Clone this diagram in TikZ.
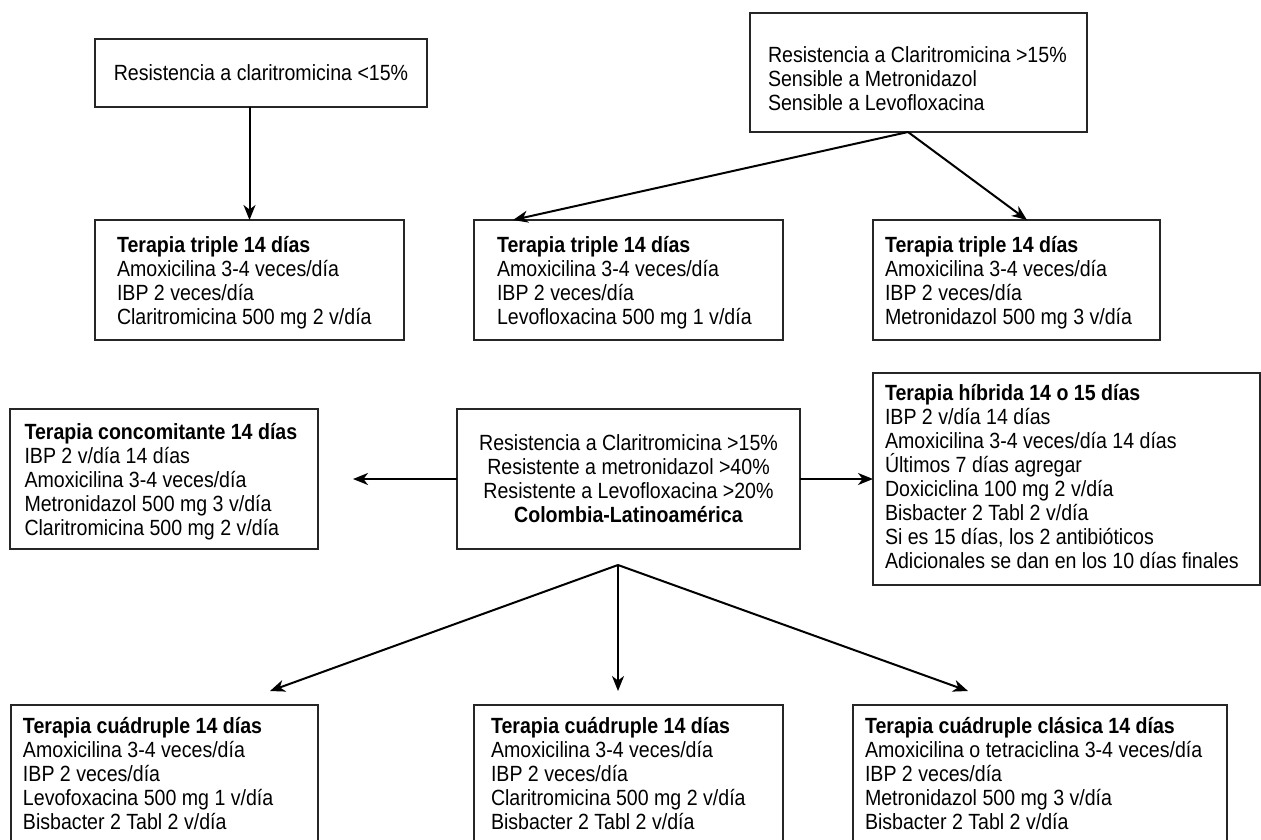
\documentclass[tikz,border=0pt]{standalone}
\usepackage{fontspec}
\setmainfont{Liberation Sans}[FakeStretch=0.89]
\usetikzlibrary{arrows.meta}
\newcommand\dfs{\fontsize{22}{24}\selectfont}
\newcommand\tstrut{\rule{0pt}{21pt}}
\tikzset{
  box/.style={draw=black!85, line width=1.5pt, inner sep=0pt, outer sep=0pt},
  txt/.style={inner sep=0pt, outer sep=0pt, anchor=north west, align=left, font=\dfs},
  ctxt/.style={inner sep=0pt, outer sep=0pt, align=center, font=\dfs},
  arr/.style={line width=2pt, draw=black, -{Stealth[length=15pt,width=12pt,inset=4.5pt]}}
}
\begin{document}
\begin{tikzpicture}[x=1pt,y=-1pt]
\clip (0,0) rectangle (1261,839);
\fill[white] (0,0) rectangle (1261,839);
% boxes
\node[box, minimum width=332pt, minimum height=68pt] (A) at (261,73) {};
\node[ctxt] (At) at (261,73) {Resistencia a claritromicina <15\%};
\node[box, minimum width=337pt, minimum height=119pt] (C) at (918.5,72.5) {};
\node[txt] (Ct) at (768,41) {\tstrut Resistencia a Claritromicina >15\%\\Sensible a Metronidazol\\Sensible a Levofloxacina};
\node[box, minimum width=309pt, minimum height=120pt] (B1) at (249.5,280) {};
\node[txt] (B1t) at (117,231) {\tstrut\textbf{Terapia triple 14 días}\\Amoxicilina 3-4 veces/día\\IBP 2 veces/día\\Claritromicina 500 mg 2 v/día};
\node[box, minimum width=309pt, minimum height=120pt] (B2) at (628.5,280) {};
\node[txt] (B2t) at (497,231) {\tstrut\textbf{Terapia triple 14 días}\\Amoxicilina 3-4 veces/día\\IBP 2 veces/día\\Levofloxacina 500 mg 1 v/día};
\node[box, minimum width=287pt, minimum height=120pt] (B3) at (1016.5,280) {};
\node[txt] (B3t) at (885,231) {\tstrut\textbf{Terapia triple 14 días}\\Amoxicilina 3-4 veces/día\\IBP 2 veces/día\\Metronidazol 500 mg 3 v/día};
\node[box, minimum width=308pt, minimum height=140pt] (D) at (164,479) {};
\node[txt] (Dt) at (24.5,418) {\tstrut\textbf{Terapia concomitante 14 días}\\IBP 2 v/día 14 días\\Amoxicilina 3-4 veces/día\\Metronidazol 500 mg 3 v/día\\Claritromicina 500 mg 2 v/día};
\node[box, minimum width=343pt, minimum height=140pt] (E) at (628.5,479) {};
\node[ctxt] (Et) at (628.5,479) {Resistencia a Claritromicina >15\%\\Resistente a metronidazol >40\%\\Resistente a Levofloxacina >20\%\\\textbf{Colombia-Latinoamérica}};
\node[box, minimum width=387pt, minimum height=212pt] (H) at (1066.5,479) {};
\node[txt] (Ht) at (885,379) {\tstrut\textbf{Terapia híbrida 14 o 15 días}\\IBP 2 v/día 14 días\\Amoxicilina 3-4 veces/día 14 días\\Últimos 7 días agregar\\Doxiciclina 100 mg 2 v/día\\Bisbacter 2 Tabl 2 v/día\\Si es 15 días, los 2 antibióticos\\Adicionales se dan en los 10 días finales};
\node[box, minimum width=307pt, minimum height=160pt] (BL) at (164.5,785) {};
\node[txt] (BLt) at (23,712) {\tstrut\textbf{Terapia cuádruple 14 días}\\Amoxicilina 3-4 veces/día\\IBP 2 veces/día\\Levofoxacina 500 mg 1 v/día\\Bisbacter 2 Tabl 2 v/día};
\node[box, minimum width=309pt, minimum height=160pt] (BM) at (628.5,785) {};
\node[txt] (BMt) at (491,712) {\tstrut\textbf{Terapia cuádruple 14 días}\\Amoxicilina 3-4 veces/día\\IBP 2 veces/día\\Claritromicina 500 mg 2 v/día\\Bisbacter 2 Tabl 2 v/día};
\node[box, minimum width=374pt, minimum height=160pt] (BR) at (1040,785) {};
\node[txt] (BRt) at (865,712) {\tstrut\textbf{Terapia cuádruple clásica 14 días}\\Amoxicilina o tetraciclina 3-4 veces/día\\IBP 2 veces/día\\Metronidazol 500 mg 3 v/día\\Bisbacter 2 Tabl 2 v/día};
% connectors
\draw[arr] (A.south -| B1.north) -- (B1.north);
\draw[arr] ([xshift=-10.5pt]C.south) -- ([xshift=-115.5pt]B2.north);
\draw[arr] ([xshift=-10.5pt]C.south) -- ([xshift=10.5pt]B3.north);
\draw[arr] (E.west) -- ([xshift=35pt]D.east);
\draw[arr] (E.east) -- (H.west);
\coordinate (fan) at ([xshift=-10.5pt,yshift=-16pt]E.south);
\draw[arr] (fan) -- ([xshift=105.5pt,yshift=14pt]BL.north);
\draw[arr] (fan) -- ([xshift=-10.5pt,yshift=14pt]BM.north);
\draw[arr] (fan) -- ([xshift=-72pt,yshift=14pt]BR.north);
\end{tikzpicture}
\end{document}
